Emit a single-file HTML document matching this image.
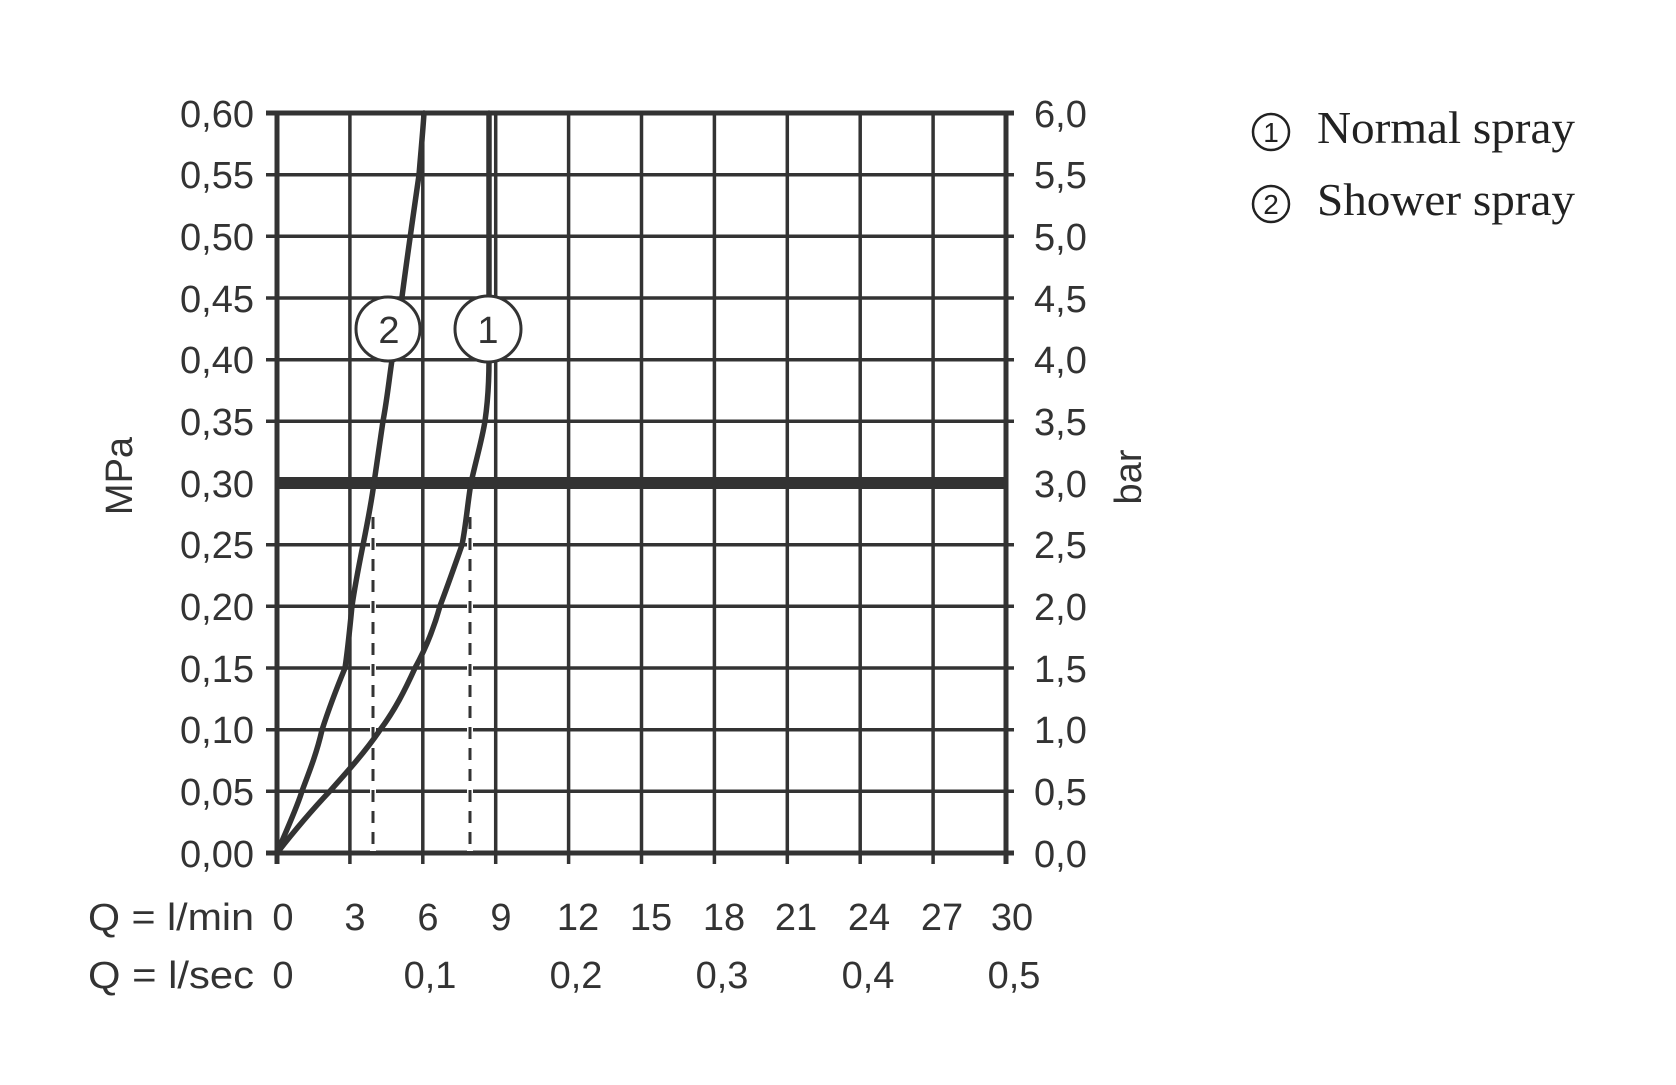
<!DOCTYPE html>
<html><head><meta charset="utf-8"><style>html,body{margin:0;padding:0;background:#fff}</style></head>
<body>
<svg width="1676" height="1080" viewBox="0 0 1676 1080" xmlns="http://www.w3.org/2000/svg">
<rect width="1676" height="1080" fill="#fff"/>
<g stroke="#333" stroke-width="3.5" fill="none">
<line x1="349.9" y1="113" x2="349.9" y2="864"/>
<line x1="422.8" y1="113" x2="422.8" y2="864"/>
<line x1="495.7" y1="113" x2="495.7" y2="864"/>
<line x1="568.6" y1="113" x2="568.6" y2="864"/>
<line x1="641.5" y1="113" x2="641.5" y2="864"/>
<line x1="714.4" y1="113" x2="714.4" y2="864"/>
<line x1="787.3" y1="113" x2="787.3" y2="864"/>
<line x1="860.2" y1="113" x2="860.2" y2="864"/>
<line x1="933.1" y1="113" x2="933.1" y2="864"/>
<line x1="266" y1="174.7" x2="1014" y2="174.7"/>
<line x1="266" y1="236.3" x2="1014" y2="236.3"/>
<line x1="266" y1="298" x2="1014" y2="298"/>
<line x1="266" y1="359.7" x2="1014" y2="359.7"/>
<line x1="266" y1="421.3" x2="1014" y2="421.3"/>
<line x1="266" y1="544.7" x2="1014" y2="544.7"/>
<line x1="266" y1="606.3" x2="1014" y2="606.3"/>
<line x1="266" y1="668" x2="1014" y2="668"/>
<line x1="266" y1="729.7" x2="1014" y2="729.7"/>
<line x1="266" y1="791.3" x2="1014" y2="791.3"/>
</g>
<g stroke="#333" stroke-width="5" fill="none">
<line x1="266" y1="113" x2="1014" y2="113"/>
<line x1="266" y1="853" x2="1014" y2="853"/>
<line x1="277" y1="111" x2="277" y2="864"/>
<line x1="1006" y1="111" x2="1006" y2="864"/>
</g>
<line x1="277" y1="483" x2="1006" y2="483" stroke="#333" stroke-width="12"/>
<g stroke="#fff" stroke-width="6">
<line x1="373" y1="517" x2="373" y2="851"/>
<line x1="470" y1="517" x2="470" y2="851"/>
</g>
<g stroke="#333" stroke-width="3" stroke-dasharray="12,9">
<line x1="373" y1="517" x2="373" y2="851"/>
<line x1="470" y1="517" x2="470" y2="851"/>
</g>
<g stroke="#333" stroke-width="5.5" fill="none" stroke-linecap="round" stroke-linejoin="round">
<path d="M277,853 C290,822 298,805 302,791 C310,770 317,752 322,730 C330,705 338,685 345,668 C348,648 350,626 352,606 C355,585 359,565 363,545 C367,525 371,505 374,483 C377,462 380,441 383,421 C387,400 389,380 392,360 C396,338 399,318 402,297 C407,258 414,210 419,175 C421,150 423,130 424,113"/>
<path d="M277,853 C295,830 312,810 330,791 C347,772 365,752 380,730 C395,710 405,690 415,668 C426,648 434,628 440,606 C448,585 456,562 462,545 C466,525 468,500 471,483 C476,460 482,440 485,421 C488,400 489,380 489,360 L489,113"/>
</g>
<g stroke="#333" stroke-width="3" fill="#fff">
<circle cx="388" cy="329" r="32"/>
<circle cx="488" cy="329" r="33"/>
</g>
<g font-family="Liberation Sans, sans-serif" fill="#333" font-size="38" text-anchor="middle">
<text x="389" y="343">2</text>
<text x="488" y="343">1</text>
</g>
<g font-family="Liberation Sans, sans-serif" fill="#333" font-size="38" text-anchor="end">
<text x="254" y="127">0,60</text>
<text x="254" y="188">0,55</text>
<text x="254" y="250">0,50</text>
<text x="254" y="312">0,45</text>
<text x="254" y="373">0,40</text>
<text x="254" y="435">0,35</text>
<text x="254" y="497">0,30</text>
<text x="254" y="558">0,25</text>
<text x="254" y="620">0,20</text>
<text x="254" y="682">0,15</text>
<text x="254" y="743">0,10</text>
<text x="254" y="805">0,05</text>
<text x="254" y="867">0,00</text>
</g>
<g font-family="Liberation Sans, sans-serif" fill="#333" font-size="38" text-anchor="start">
<text x="1034" y="127">6,0</text>
<text x="1034" y="188">5,5</text>
<text x="1034" y="250">5,0</text>
<text x="1034" y="312">4,5</text>
<text x="1034" y="373">4,0</text>
<text x="1034" y="435">3,5</text>
<text x="1034" y="497">3,0</text>
<text x="1034" y="558">2,5</text>
<text x="1034" y="620">2,0</text>
<text x="1034" y="682">1,5</text>
<text x="1034" y="743">1,0</text>
<text x="1034" y="805">0,5</text>
<text x="1034" y="867">0,0</text>
</g>
<g font-family="Liberation Sans, sans-serif" fill="#333" font-size="38" text-anchor="middle">
<text x="283" y="930">0</text>
<text x="355" y="930">3</text>
<text x="428" y="930">6</text>
<text x="501" y="930">9</text>
<text x="578" y="930">12</text>
<text x="651" y="930">15</text>
<text x="724" y="930">18</text>
<text x="796" y="930">21</text>
<text x="869" y="930">24</text>
<text x="942" y="930">27</text>
<text x="1012" y="930">30</text>
<text x="283" y="988">0</text>
<text x="430" y="988">0,1</text>
<text x="576" y="988">0,2</text>
<text x="722" y="988">0,3</text>
<text x="868" y="988">0,4</text>
<text x="1014" y="988">0,5</text>
<text x="0" y="0" transform="translate(132,476) rotate(-90)">MPa</text>
<text x="0" y="0" transform="translate(1141,477) rotate(-90)">bar</text>
</g>
<g font-family="Liberation Sans, sans-serif" fill="#333" font-size="38">
<text x="88" y="930" textLength="166" lengthAdjust="spacingAndGlyphs">Q = l/min</text>
<text x="88" y="988" textLength="166" lengthAdjust="spacingAndGlyphs">Q = l/sec</text>
</g>
<g stroke="#222" stroke-width="2.5" fill="none">
<circle cx="1271" cy="132" r="18"/>
<circle cx="1271" cy="204" r="18"/>
</g>
<g font-family="Liberation Sans, sans-serif" fill="#222" font-size="28" text-anchor="middle">
<text x="1271" y="142">1</text>
<text x="1271" y="214">2</text>
</g>
<g font-family="Liberation Serif, serif" fill="#222" font-size="46">
<text x="1317" y="143" textLength="258" lengthAdjust="spacingAndGlyphs">Normal spray</text>
<text x="1317" y="215" textLength="258" lengthAdjust="spacingAndGlyphs">Shower spray</text>
</g>
</svg>
</body></html>
